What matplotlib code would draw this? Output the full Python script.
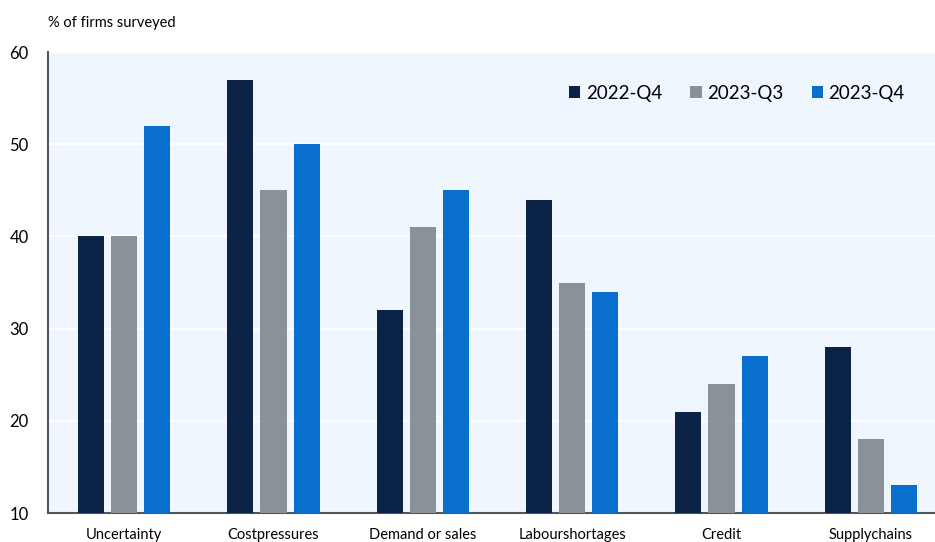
import matplotlib.pyplot as plt
import numpy as np

plt.rcParams['font.family'] = ['Lato', 'DejaVu Sans']

categories = ["Uncertainty", "Costpressures", "Demand or sales", "Labourshortages", "Credit", "Supplychains"]
series = ["2022-Q4", "2023-Q3", "2023-Q4"]
q4_2022 = [40, 57, 32, 44, 21, 28]
q3_2023 = [40, 45, 41, 35, 24, 18]
q4_2023 = [52, 50, 45, 34, 27, 13]
colors = ["#0B2347", "#8A9199", "#0A6FCC"]

fig = plt.figure(figsize=(9.35, 5.42), dpi=100)
ax = fig.add_axes([0.0513, 0.0535, 0.9487, 0.8505])
ax.set_facecolor("#EFF6FD")

x = np.arange(len(categories))
w = 0.175
off = 0.222
for i, (vals, name) in enumerate(zip([q4_2022, q3_2023, q4_2023], series)):
    ax.bar(x + (i - 1) * off, np.array(vals) - 10, width=w, bottom=10,
           color=colors[i], label=name, zorder=3)

ax.set_ylim(10, 60)
ax.set_xlim(-0.51, 5.43)
ax.set_yticks([10, 20, 30, 40, 50, 60])
ax.set_xticks(x)
ax.set_xticklabels(categories, fontsize=10.5)
ax.tick_params(axis='y', labelsize=12, length=0, pad=14)
ax.tick_params(axis='x', length=0, pad=11)
ax.grid(axis='y', color='white', linewidth=1.2, zorder=1)

for s in ['top', 'right']:
    ax.spines[s].set_visible(False)
ax.spines['left'].set_color('#555555')
ax.spines['left'].set_linewidth(1.5)
ax.spines['bottom'].set_color('#555555')
ax.spines['bottom'].set_linewidth(1.5)

fig.text(0.0513, 0.957, "% of firms surveyed", fontsize=10.5, va='center', ha='left')

ax.legend(loc='center right', bbox_to_anchor=(0.985, 0.911), ncol=3, frameon=False,
          fontsize=13.5, handlelength=0.6, handleheight=0.6, handletextpad=0.3,
          columnspacing=1.5)

fig.savefig("out.png", dpi=100)
